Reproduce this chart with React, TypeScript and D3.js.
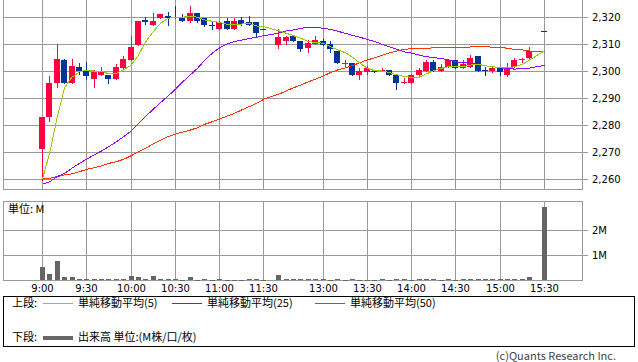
import { useEffect, useRef } from 'react'
import * as d3 from 'd3'

// 5-minute bars (morning 9:00-11:30, afternoon 12:30-15:30)
const times = [
  "9:00", "9:05", "9:10", "9:15", "9:20", "9:25", "9:30", "9:35", "9:40", "9:45", "9:50", "9:55",
  "10:00", "10:05", "10:10", "10:15", "10:20", "10:25", "10:30", "10:35", "10:40", "10:45", "10:50", "10:55",
  "11:00", "11:05", "11:10", "11:15", "11:20", "11:25", "11:30",
  "12:30", "12:35", "12:40", "12:45", "12:50", "12:55",
  "13:00", "13:05", "13:10", "13:15", "13:20", "13:25", "13:30", "13:35", "13:40", "13:45", "13:50", "13:55",
  "14:00", "14:05", "14:10", "14:15", "14:20", "14:25", "14:30", "14:35", "14:40", "14:45", "14:50", "14:55",
  "15:00", "15:05", "15:10", "15:15", "15:20", "15:30"
]

const opens = [
  2271, 2283, 2295.5, 2304, 2295.5, 2301.5, 2300.5, 2297, 2298.5, 2298.5, 2297, 2301,
  2304, 2309.5, 2319, 2317, 2319.5, 2320.5, 2320, 2319.5, 2318.5, 2321.5, 2319.5, 2317,
  2315.5, 2318.5, 2315.5, 2319, 2318, 2318, 2315.5,
  2309.5, 2311, 2313, 2311, 2308.5, 2310,
  2311, 2310, 2307.5, 2302.5, 2303, 2298.5, 2299.5, 2300, 2300, 2300.5, 2298.5, 2295.5,
  2295.5, 2298.5, 2300, 2303.5, 2300, 2301.5, 2304, 2301, 2301.5, 2305.5, 2300.5, 2300,
  2301, 2298.5, 2301.5, 2304, 2305, 2315
]
const highs = [
  2283, 2298, 2310, 2304.5, 2304.5, 2303, 2303.5, 2300.5, 2301.5, 2298.5, 2302.5, 2305.5,
  2313, 2318.5, 2320, 2321.5, 2321, 2322, 2324, 2321, 2324, 2321.5, 2319.5, 2318.5,
  2318.5, 2319.5, 2319.5, 2320, 2320.5, 2318, 2315.5,
  2315.5, 2313, 2313.5, 2311, 2311.5, 2313,
  2312, 2311, 2307.5, 2304, 2303, 2301, 2302, 2300, 2301, 2300.5, 2298.5, 2297.5,
  2299, 2301, 2304, 2304, 2302.5, 2304.5, 2304, 2304, 2306, 2305.5, 2301.5, 2301.5,
  2301, 2303, 2305, 2305, 2309, 2315
]
const lows = [
  2259.5, 2281.5, 2294, 2295.5, 2295.5, 2299, 2297, 2294, 2298.5, 2295.5, 2297, 2301,
  2304, 2309.5, 2317.5, 2317, 2319.5, 2317, 2319.5, 2318.5, 2318, 2318, 2316.5, 2315.5,
  2315.5, 2315.5, 2315.5, 2317, 2317, 2312.5, 2315.5,
  2308.5, 2310, 2311, 2307.5, 2307, 2310,
  2309.5, 2307, 2303, 2301.5, 2298.5, 2297, 2299, 2299.5, 2300, 2298.5, 2293.5, 2295.5,
  2295.5, 2298.5, 2300, 2300, 2300, 2301.5, 2301, 2301, 2301.5, 2300, 2298.5, 2299.5,
  2298.5, 2298, 2301.5, 2303.5, 2305, 2315
]
const closes = [
  2283, 2295.5, 2304.5, 2295.5, 2302, 2300, 2298, 2299.5, 2300, 2297, 2301.5, 2304.5,
  2309, 2318.5, 2318, 2318.5, 2321, 2319.5, 2320, 2318.5, 2321.5, 2318.5, 2317, 2316.5,
  2318, 2315.5, 2318.5, 2317.5, 2317, 2314, 2315.5,
  2312.5, 2312.5, 2311, 2308, 2310.5, 2311.5,
  2309.5, 2308, 2303, 2303, 2298.5, 2300, 2301, 2299.5, 2300.5, 2298.5, 2295.5, 2296,
  2298.5, 2300.5, 2303.5, 2300, 2301.5, 2304, 2301, 2302.5, 2305, 2300, 2300, 2301,
  2299.5, 2301.5, 2304, 2304.5, 2307.5, 2315
]

// volume (M)
const volumes = [
  0.56, 0.27, 0.79, 0.16, 0.16, 0.06, 0.06, 0.06, 0.06, 0.06, 0.06, 0.06,
  0.2, 0.15, 0.06, 0.2, 0.06, 0.06, 0.06, 0.03, 0.12, 0.03, 0.06, 0.03,
  0.06, 0.03, 0.03, 0.03, 0.06, 0.06, 0.03,
  0.23, 0.06, 0.06, 0.06, 0.06, 0.06,
  0.06, 0.03, 0.06, 0.03, 0.06, 0.03, 0.03, 0.03, 0.06, 0.03, 0.06, 0.06,
  0.03, 0.06, 0.06, 0.06, 0.03, 0.06, 0.03, 0.06, 0.06, 0.06, 0.06, 0.06,
  0.06, 0.06, 0.06, 0.06, 0.14, 2.95
]

// moving averages
const ma5 = [
  2260, 2270, 2283, 2294, 2297.7, 2299.7, 2300.3, 2300, 2300, 2298.9, 2299.1, 2300.4,
  2302.2, 2305.9, 2310.9, 2314.6, 2317.7, 2319.5, 2319.9, 2319.9, 2320.3, 2319.9, 2318.9, 2318.4,
  2318, 2317.3, 2317.3, 2317.4, 2317.7, 2316.7, 2316.4,
  2314.9, 2314, 2313.1, 2312.1, 2310.9, 2310.6,
  2310.3, 2309, 2307.8, 2306.8, 2305.1, 2302.9, 2301, 2300.1, 2300, 2299.4, 2298.6, 2297.9,
  2297.7, 2297.7, 2298.9, 2300.1, 2301, 2301.6, 2301.6, 2301.6, 2302.2, 2302.5, 2301.9, 2301.6,
  2301.2, 2301.2, 2301.6, 2302.5, 2304.1, 2307.5
]
const ma25 = [
  2258.1, 2259, 2260.9, 2262.1, 2264, 2265.8, 2267.4, 2268.9, 2270.4, 2272, 2273.8, 2275.7,
  2277.8, 2280.6, 2283.3, 2285.8, 2288.3, 2290.7, 2293.2, 2296, 2298.5, 2301, 2304.1, 2306.6,
  2308.6, 2310, 2310.9, 2311.5, 2312, 2312.5, 2313.1,
  2314, 2314.8, 2315.2, 2315.8, 2316.2, 2316.2,
  2315.8, 2315.4, 2314.7, 2314, 2313.2, 2312.5, 2311.7, 2310.9, 2309.9, 2309, 2308, 2307.1,
  2306.6, 2305.9, 2305.3, 2304.9, 2304.7, 2304.1, 2303.4, 2303.2, 2302.9, 2302.3, 2301.9, 2301.6,
  2301.2, 2300.9, 2300.7, 2300.9, 2301.1, 2302.1
]
const ma50 = [
  2260, 2260.3, 2260.9, 2261.5, 2261.9, 2262.7, 2263.6, 2264.2, 2264.9, 2265.8, 2266.4, 2267.3,
  2268.6, 2270.1, 2271.4, 2273, 2274.4, 2275.7, 2276.6, 2277.4, 2278.1, 2279, 2280.3, 2281.2,
  2282.2, 2283.3, 2284.3, 2285.6, 2286.8, 2288, 2289.6,
  2291.4, 2292.6, 2293.8, 2294.8, 2296, 2297,
  2298.1, 2299.4, 2300.4, 2301.1, 2302, 2303.1, 2304.1, 2304.9, 2305.8, 2306.7, 2307.4, 2308,
  2308.3, 2308.4, 2308.4, 2308.6, 2308.6, 2308.6, 2308.8, 2308.8, 2308.9, 2309.1, 2309, 2308.8,
  2308.8, 2308.4, 2308, 2307.8, 2307.4, 2307.4
]

const timeTicks = ["9:00", "9:30", "10:00", "10:30", "11:00", "11:30", "13:00", "13:30", "14:00", "14:30", "15:00", "15:30"]
const priceTicks = [2260, 2270, 2280, 2290, 2300, 2310, 2320]
const volumeTicks = [1, 2]

const legendItems = [
  { label: "単純移動平均(5)", color: "#99cc00" },
  { label: "単純移動平均(25)", color: "#9900ff" },
  { label: "単純移動平均(50)", color: "#ff3300" },
]

const UP = "#ff0040"
const DOWN = "#003399"
const GRID = "#999999"
const JP = "'Noto Sans CJK JP', sans-serif"
const NUM = "'DejaVu Sans', sans-serif"

// slot index on the x axis: lunch break collapsed, one empty slot after 11:30
function slotOf(t: string) {
  const [h, m] = t.split(":").map(Number)
  const min = h * 60 + m
  return min <= 690 ? (min - 540) / 5 : (min - 750) / 5 + 32
}

export default function App() {
  const svgRef = useRef<SVGSVGElement>(null)

  useEffect(() => {
    if (!svgRef.current) return
    const svg = d3.select(svgRef.current)
    svg.selectAll("*").remove()

    const left = 3.5, right = 582.5
    const main = { top: -0.5, bottom: 189.5 }
    const vol = { top: 201.5, bottom: 280.5 }

    const x = d3.scaleLinear().domain([0, 68]).range([42, 544])
    const y = d3.scaleLinear().domain([2260, 2320]).range([179, 17])
    const yv = d3.scaleLinear().domain([0, 2]).range([280.5, 230.5])
    const px = (t: string) => Math.round(x(slotOf(t)))

    const data = times.map((t, i) => ({
      t, o: opens[i], h: highs[i], l: lows[i], c: closes[i], v: volumes[i],
      m5: ma5[i], m25: ma25[i], m50: ma50[i]
    }))

    const grid = svg.append("g").attr("shape-rendering", "crispEdges")

    // horizontal grid + right ticks
    priceTicks.forEach(p => {
      const yy = Math.round(y(p)) + 0.5
      grid.append("line").attr("x1", left).attr("x2", 588).attr("y1", yy).attr("y2", yy)
        .attr("stroke", GRID)
      svg.append("text").attr("x", 592).attr("y", yy + 3.5)
        .attr("font-family", NUM).attr("font-size", 10).attr("fill", "#000")
        .text(d3.format(",")(p))
    })
    volumeTicks.forEach(v => {
      const yy = Math.round(yv(v) - 0.5) + 0.5
      grid.append("line").attr("x1", left).attr("x2", 588).attr("y1", yy).attr("y2", yy)
        .attr("stroke", GRID)
      svg.append("text").attr("x", 592).attr("y", yy + 3.5)
        .attr("font-family", NUM).attr("font-size", 10).attr("fill", "#000")
        .text(`${v}M`)
    })

    // vertical grid + time labels
    timeTicks.forEach(t => {
      const xx = px(t) + 0.5
      grid.append("line").attr("x1", xx).attr("x2", xx).attr("y1", main.top).attr("y2", main.bottom)
        .attr("stroke", GRID)
      grid.append("line").attr("x1", xx).attr("x2", xx).attr("y1", vol.top).attr("y2", vol.bottom)
        .attr("stroke", GRID)
      svg.append("text").attr("x", xx).attr("y", 291.5).attr("text-anchor", "middle")
        .attr("font-family", NUM).attr("font-size", 10).attr("fill", "#000")
        .text(t)
    })

    // panel frames
    grid.append("rect").attr("x", left).attr("y", main.top)
      .attr("width", right - left).attr("height", main.bottom - main.top)
      .attr("fill", "none").attr("stroke", GRID)
    grid.append("rect").attr("x", left).attr("y", vol.top)
      .attr("width", right - left).attr("height", vol.bottom - vol.top)
      .attr("fill", "none").attr("stroke", GRID)

    svg.append("text").attr("x", 8).attr("y", 213)
      .attr("font-family", JP).attr("font-size", 11).attr("fill", "#000")
      .text("単位: M")

    // volume bars
    svg.append("g").attr("shape-rendering", "crispEdges")
      .selectAll("rect").data(data).join("rect")
      .attr("x", d => px(d.t) - 2)
      .attr("y", d => Math.round(yv(d.v)))
      .attr("width", 5)
      .attr("height", d => Math.max(1, 280 - Math.round(yv(d.v))))
      .attr("fill", "#666666")

    // candlesticks
    const candles = svg.append("g").attr("shape-rendering", "crispEdges")
    data.forEach(d => {
      const col = d.c > d.o ? UP : DOWN
      const cx = px(d.t)
      const top = Math.round(y(Math.max(d.o, d.c)))
      const bot = Math.round(y(Math.min(d.o, d.c)))
      candles.append("line")
        .attr("x1", cx + 0.5).attr("x2", cx + 0.5)
        .attr("y1", Math.round(y(d.h))).attr("y2", Math.round(y(d.l)) + 1)
        .attr("stroke", col)
      candles.append("rect")
        .attr("x", cx - 3).attr("y", top)
        .attr("width", 6).attr("height", Math.max(1, bot - top))
        .attr("fill", col)
    })

    // moving averages (aliased like the original)
    const lines: [keyof typeof data[0], string][] = [["m50", "#ff3300"], ["m25", "#9900ff"], ["m5", "#99cc00"]]
    lines.forEach(([k, color]) => {
      const line = d3.line<typeof data[0]>()
        .x(d => x(slotOf(d.t)) + 0.5)
        .y(d => y(d[k] as number))
      svg.append("path").datum(data)
        .attr("fill", "none").attr("stroke", color).attr("stroke-width", 1)
        .attr("shape-rendering", "crispEdges")
        .attr("d", line)
    })

    // legend
    const lg = svg.append("g")
    lg.append("rect").attr("x", 3.5).attr("y", 296.5).attr("width", 631).attr("height", 50)
      .attr("fill", "none").attr("stroke", "#000").attr("shape-rendering", "crispEdges")
    const row1 = 307, row2 = 341
    lg.append("text").attr("x", 12).attr("y", row1).attr("font-family", JP).attr("font-size", 11).text("上段:")
    const lineX = [43, 172, 315]
    legendItems.forEach((it, i) => {
      lg.append("line").attr("x1", lineX[i]).attr("x2", lineX[i] + 30)
        .attr("y1", 303.5).attr("y2", 303.5).attr("stroke", it.color)
        .attr("shape-rendering", "crispEdges")
      lg.append("text").attr("x", lineX[i] + 35).attr("y", row1)
        .attr("font-family", JP).attr("font-size", 11).text(it.label)
    })
    lg.append("text").attr("x", 12).attr("y", row2).attr("font-family", JP).attr("font-size", 11).text("下段:")
    lg.append("rect").attr("x", 43).attr("y", 336).attr("width", 30).attr("height", 4).attr("fill", "#666666")
    lg.append("text").attr("x", 78).attr("y", row2).attr("font-family", JP).attr("font-size", 11)
      .text("出来高 単位:(M株/口/枚)")

    svg.append("text").attr("x", 616).attr("y", 360).attr("text-anchor", "end")
      .attr("font-family", JP).attr("font-size", 11).attr("fill", "#444")
      .text("(c)Quants Research Inc.")
  }, [])

  return (
    <svg ref={svgRef} width={638} height={362}
      style={{ position: "absolute", left: 0, top: 0, background: "#fff" }} />
  )
}
